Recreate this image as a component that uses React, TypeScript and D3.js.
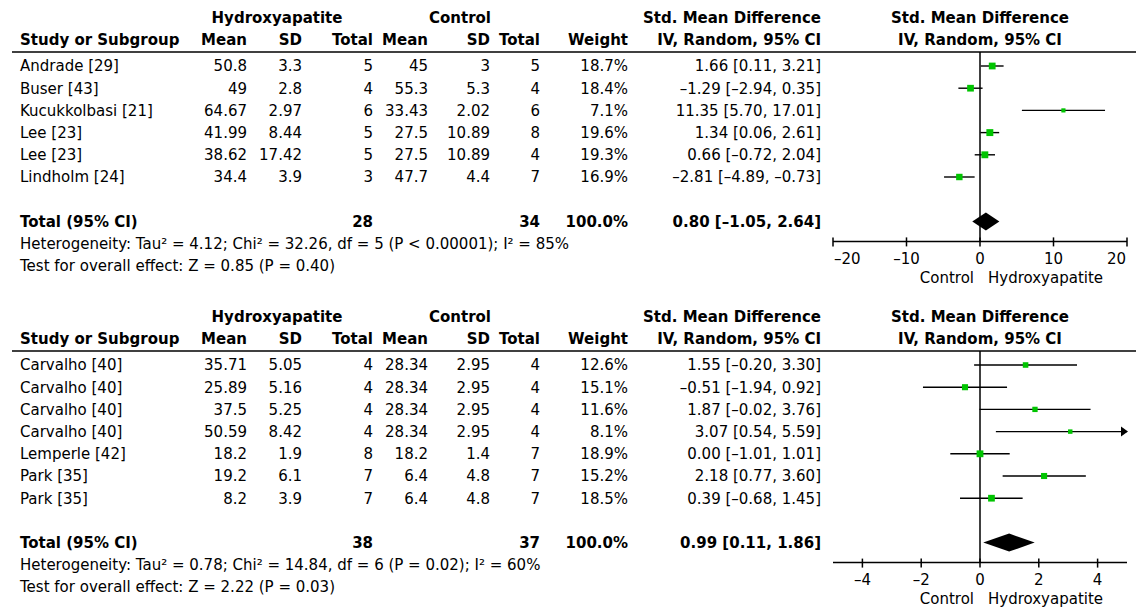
import * as d3 from "d3";

// ---- first comparison ----
const studiesA = ["Andrade [29]", "Buser [43]", "Kucukkolbasi [21]", "Lee [23]", "Lee [23]", "Lindholm [24]"];
const haMeanA = [50.8, 49, 64.67, 41.99, 38.62, 34.4];
const haSdA = [3.3, 2.8, 2.97, 8.44, 17.42, 3.9];
const haNA = [5, 4, 6, 5, 5, 3];
const ctMeanA = [45, 55.3, 33.43, 27.5, 27.5, 47.7];
const ctSdA = [3, 5.3, 2.02, 10.89, 10.89, 4.4];
const ctNA = [5, 4, 6, 8, 4, 7];
const weightA = [18.7, 18.4, 7.1, 19.6, 19.3, 16.9];
const smdA = [1.66, -1.29, 11.35, 1.34, 0.66, -2.81];
const loA = [0.11, -2.94, 5.7, 0.06, -0.72, -4.89];
const hiA = [3.21, 0.35, 17.01, 2.61, 2.04, -0.73];
const totalNA = [28, 34];
const pooledA = [0.8, -1.05, 2.64];
const hetA = "Heterogeneity: Tau² = 4.12; Chi² = 32.26, df = 5 (P < 0.00001); I² = 85%";
const testA = "Test for overall effect: Z = 0.85 (P = 0.40)";
const domainA = [-20, 20];
const ticksA = [-20, -10, 0, 10, 20];

// ---- second comparison ----
const studiesB = ["Carvalho [40]", "Carvalho [40]", "Carvalho [40]", "Carvalho [40]", "Lemperle [42]", "Park [35]", "Park [35]"];
const haMeanB = [35.71, 25.89, 37.5, 50.59, 18.2, 19.2, 8.2];
const haSdB = [5.05, 5.16, 5.25, 8.42, 1.9, 6.1, 3.9];
const haNB = [4, 4, 4, 4, 8, 7, 7];
const ctMeanB = [28.34, 28.34, 28.34, 28.34, 18.2, 6.4, 6.4];
const ctSdB = [2.95, 2.95, 2.95, 2.95, 1.4, 4.8, 4.8];
const ctNB = [4, 4, 4, 4, 7, 7, 7];
const weightB = [12.6, 15.1, 11.6, 8.1, 18.9, 15.2, 18.5];
const smdB = [1.55, -0.51, 1.87, 3.07, 0.0, 2.18, 0.39];
const loB = [-0.2, -1.94, -0.02, 0.54, -1.01, 0.77, -0.68];
const hiB = [3.3, 0.92, 3.76, 5.59, 1.01, 3.6, 1.45];
const totalNB = [38, 37];
const pooledB = [0.99, 0.11, 1.86];
const hetB = "Heterogeneity: Tau² = 0.78; Chi² = 14.84, df = 6 (P = 0.02); I² = 60%";
const testB = "Test for overall effect: Z = 2.22 (P = 0.03)";
const domainB = [-5, 5];
const ticksB = [-4, -2, 0, 2, 4];

const FONT = "'DejaVu Sans', Verdana, sans-serif";
const FS = 15;
const PITCH = 22.2;

// right edges of the table columns
const COL = { study: 20, haMean: 247, haSd: 302, haN: 373, ctMean: 428, ctSd: 490, ctN: 540, weight: 628, ci: 821 };

const dash = (s: string) => s.replace(/[−-]/g, "–");
const f2 = (v: number) => dash(d3.format(".2f")(v));
const ciText = (m: number, l: number, h: number) => `${f2(m)} [${f2(l)}, ${f2(h)}]`;

function Panel({ top, studies, haMean, haSd, haN, ctMean, ctSd, ctN, weight, smd, lo, hi, totals, pooled, het, test, domain, ticks }: any) {
  const x = d3.scaleLinear().domain(domain).range([833, 1127]);
  const size = d3.scaleSqrt().domain([0, 20]).range([0, 7]);
  const h1 = top + 18;
  const h2 = top + 40;
  const lineY = top + 52;
  const rowY = (i: number) => top + 66 + i * PITCH;
  const totalY = rowY(studies.length + 1);
  const hetY = totalY + 22;
  const testY = hetY + 22;
  const axisY = totalY + 20;
  const x0 = x(0);

  const cell = (t: any, xr: number, y: number, bold = false, anchor = "end") => (
    <text x={xr} y={y} dy="0.36em" textAnchor={anchor} fontWeight={bold ? "bold" : "normal"}>{t}</text>
  );

  // end ticks keep their labels inside the axis
  const tickAnchor = (t: number) => (t === domain[0] ? "start" : t === domain[1] ? "end" : "middle");
  const tickShift = (t: number) => (t === domain[0] ? 1 : t === domain[1] ? -1 : 0);

  return (
    <g>
      {/* header */}
      <g fontWeight="bold">
        <text x={277} y={h1} dy="0.36em" textAnchor="middle">Hydroxyapatite</text>
        <text x={460} y={h1} dy="0.36em" textAnchor="middle">Control</text>
        <text x={COL.ci} y={h1} dy="0.36em" textAnchor="end">Std. Mean Difference</text>
        <text x={980} y={h1} dy="0.36em" textAnchor="middle">Std. Mean Difference</text>
        <text x={COL.study} y={h2} dy="0.36em">Study or Subgroup</text>
        <text x={COL.haMean} y={h2} dy="0.36em" textAnchor="end">Mean</text>
        <text x={COL.haSd} y={h2} dy="0.36em" textAnchor="end">SD</text>
        <text x={COL.haN} y={h2} dy="0.36em" textAnchor="end">Total</text>
        <text x={COL.ctMean} y={h2} dy="0.36em" textAnchor="end">Mean</text>
        <text x={COL.ctSd} y={h2} dy="0.36em" textAnchor="end">SD</text>
        <text x={COL.ctN} y={h2} dy="0.36em" textAnchor="end">Total</text>
        <text x={COL.weight} y={h2} dy="0.36em" textAnchor="end">Weight</text>
        <text x={COL.ci} y={h2} dy="0.36em" textAnchor="end">IV, Random, 95% CI</text>
        <text x={980} y={h2} dy="0.36em" textAnchor="middle">IV, Random, 95% CI</text>
      </g>
      <line x1={12} x2={1136} y1={lineY} y2={lineY} stroke="#000" strokeWidth={1.5} />

      {/* study rows */}
      {studies.map((s: string, i: number) => {
        const y = rowY(i);
        return (
          <g key={i}>
            {cell(s, COL.study, y, false, "start")}
            {cell(String(haMean[i]), COL.haMean, y)}
            {cell(String(haSd[i]), COL.haSd, y)}
            {cell(haN[i], COL.haN, y)}
            {cell(String(ctMean[i]), COL.ctMean, y)}
            {cell(String(ctSd[i]), COL.ctSd, y)}
            {cell(ctN[i], COL.ctN, y)}
            {cell(d3.format(".1f")(weight[i]) + "%", COL.weight, y)}
            {cell(ciText(smd[i], lo[i], hi[i]), COL.ci, y)}
          </g>
        );
      })}

      {/* totals */}
      {cell("Total (95% CI)", COL.study, totalY, true, "start")}
      {cell(totals[0], COL.haN, totalY, true)}
      {cell(totals[1], COL.ctN, totalY, true)}
      {cell("100.0%", COL.weight, totalY, true)}
      {cell(ciText(pooled[0], pooled[1], pooled[2]), COL.ci, totalY, true)}
      {cell(het, COL.study, hetY, false, "start")}
      {cell(test, COL.study, testY, false, "start")}

      {/* forest plot */}
      <line x1={x0} x2={x0} y1={lineY} y2={axisY} stroke="#000" strokeWidth={1.5} />
      {studies.map((_: string, i: number) => {
        const y = rowY(i);
        const [d0, d1] = domain;
        const xa = x(Math.max(lo[i], d0));
        const xb = x(Math.min(hi[i], d1));
        const s = size(weight[i]);
        return (
          <g key={i}>
            <line x1={xa} x2={xb} y1={y} y2={y} stroke="#000" strokeWidth={1.4} />
            {hi[i] > d1 && <path d={`M${xb + 1},${y} L${xb - 6},${y - 5} L${xb - 6},${y + 5} Z`} fill="#000" />}
            <rect x={x(smd[i]) - s / 2} y={y - s / 2} width={s} height={s} fill="#00c400" />
          </g>
        );
      })}
      <path
        d={`M${x(pooled[1])},${totalY} L${x(pooled[0])},${totalY - 9} L${x(pooled[2])},${totalY} L${x(pooled[0])},${totalY + 9} Z`}
        fill="#000"
      />
      <line x1={x(domain[0])} x2={x(domain[1])} y1={axisY} y2={axisY} stroke="#000" strokeWidth={1.5} />
      {ticks.map((t: number) => (
        <g key={t}>
          <line x1={x(t)} x2={x(t)} y1={axisY - 4} y2={axisY + 5} stroke="#000" strokeWidth={1.5} />
          <text x={x(t) + tickShift(t)} y={axisY + 17} dy="0.36em" textAnchor={tickAnchor(t)}>
            {dash(d3.format("d")(t))}
          </text>
        </g>
      ))}
      <text x={x0 - 6} y={axisY + 36} dy="0.36em" textAnchor="end">Control</text>
      <text x={x0 + 8} y={axisY + 36} dy="0.36em">Hydroxyapatite</text>
    </g>
  );
}

export default function App() {
  return (
    <svg
      width={1136}
      height={608}
      style={{ position: "absolute", left: 0, top: 0, background: "#fff" }}
      fontFamily={FONT}
      fontSize={FS}
      fill="#000"
    >
      <Panel
        top={0}
        studies={studiesA} haMean={haMeanA} haSd={haSdA} haN={haNA}
        ctMean={ctMeanA} ctSd={ctSdA} ctN={ctNA} weight={weightA}
        smd={smdA} lo={loA} hi={hiA} totals={totalNA} pooled={pooledA}
        het={hetA} test={testA} domain={domainA} ticks={ticksA}
      />
      <Panel
        top={299}
        studies={studiesB} haMean={haMeanB} haSd={haSdB} haN={haNB}
        ctMean={ctMeanB} ctSd={ctSdB} ctN={ctNB} weight={weightB}
        smd={smdB} lo={loB} hi={hiB} totals={totalNB} pooled={pooledB}
        het={hetB} test={testB} domain={domainB} ticks={ticksB}
      />
    </svg>
  );
}
